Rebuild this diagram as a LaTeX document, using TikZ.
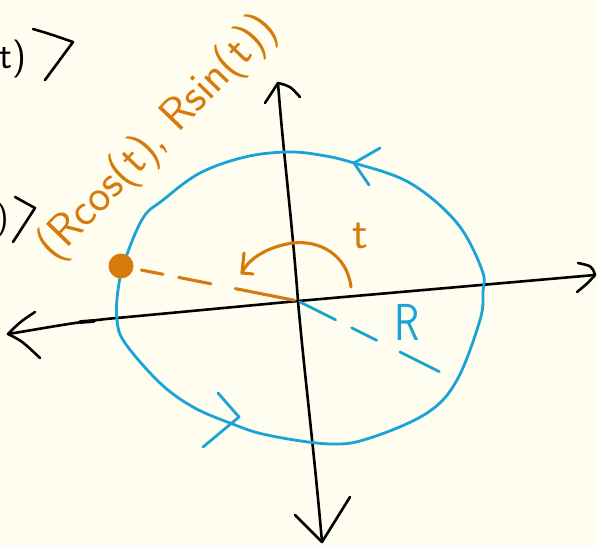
\documentclass[tikz,border=0pt]{standalone}
\definecolor{bg}{RGB}{254,253,240}
\definecolor{skyb}{RGB}{26,163,214}
\definecolor{ochre}{RGB}{214,122,11}
\begin{document}
\begin{tikzpicture}[x=1pt,y=-1pt, line cap=round, line join=round,
  axis/.style={line width=2.6pt, black},
  circ/.style={line width=2.8pt, skyb},
  orng/.style={line width=3.1pt, ochre},
  hand/.style={font=\sffamily\fontsize{#1}{#1}\selectfont, inner sep=0pt},
]
\fill[bg] (0,0) rectangle (598,546);
\useasboundingbox (0,0) rectangle (598,546);

% axes
\coordinate (L) at (8,334);
\coordinate (Rx) at (595,275);
\coordinate (T) at (278,83);
\coordinate (B) at (322,542);
\coordinate (O) at (298,301);

\draw[axis] (L) .. controls (40,329) and (80,321) .. (117,318) -- (O) -- (Rx);
\draw[line width=3.8pt] (80,322) -- (94,321);
\draw[axis] (T) .. controls (283,150) and (292,220) .. (O) .. controls (304,370) and (314,450) .. (B);

% axis arrowheads
\draw[axis] (35,312) .. controls (20,322) .. (L) .. controls (22,341) .. (40,358);
\draw[axis] (578,263) .. controls (592,266) .. (Rx) .. controls (588,283) .. (577,292);
\draw[axis] (265,103) -- (T) .. controls (290,86) .. (300,97);
\draw[axis] (295,515) -- (B) -- (350,497);

% circle
\draw[circ] plot[smooth cycle, tension=0.6] coordinates {
  (287,152) (320,155) (354,163) (410,183) (457,223) (482,270) (483,292)
  (480,320) (457,380) (427,413) (370,438) (330,444) (267,435) (230,423)
  (193,407) (160,383) (125,343) (117,320) (118,290) (125,260) (143,218)
  (163,200) (200,173) (245,157)};
\draw[circ] (218,393) -- (239,417) -- (203,447);
\draw[circ] (380,148) -- (354,163) -- (369,185);

% point and radius
\node[circle, fill=ochre, minimum size=25pt, inner sep=0pt] (P) at (121,266) {};
\draw[orng, dash pattern=on 22pt off 16pt on 33pt off 25pt on 60pt, shorten <=8pt] (P) -- (O);
\coordinate (Re) at (442,373);
\draw[circ, dash pattern=on 40pt off 18pt on 28pt off 26pt on 44pt, shorten <=2pt] (O) -- (Re);

% angle arc
\coordinate (a0) at (351,287);
\coordinate (a1) at (242,273);
\draw[orng] (a0) .. controls (347,255) and (320,240) .. (293,243) .. controls (270,246) and (248,258) .. (a1);
\draw[orng] (244,253) -- (a1) -- (253,274);

% labels
\node[hand=46, text=ochre] (tl) at (360,236) {t};
\node[hand=52, text=skyb, xscale=0.8] (Rl) at (407,322) {R};
\node[hand=46, text=ochre, rotate=46] (pl) at (158,138) {(Rcos(t), Rsin(t))};

% cut-off fragments at left edge
\node[hand=38, anchor=base east] (f1) at (27,68) {t)};
\draw[axis] (33,29) .. controls (50,34) .. (73,42) -- (45,80);
\node[hand=34, anchor=base east] (f2) at (9,228) {)};
\draw[axis] (15,197) -- (35,208) -- (13,242);
\end{tikzpicture}
\end{document}
